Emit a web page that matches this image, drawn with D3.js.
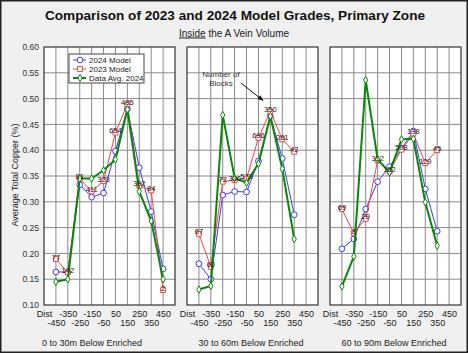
<!DOCTYPE html>
<html>
<head>
<meta charset="utf-8">
<script src="https://cdn.jsdelivr.net/npm/d3@7"></script>
<style>
  body { margin: 0; background: #f0f0f0; }
  text { font-family: Arial, "Liberation Sans", sans-serif; }
</style>
</head>
<body>
<script>
// distance bins along the x axis (m)
const xVals = [-450, -350, -250, -150, -50, 50, 150, 250, 350, 450];
const xTicks = [-550, -450, -350, -250, -150, -50, 50, 150, 250, 350, 450];
const xTickLabels = ["Dist", "-450", "-350", "-250", "-150", "-50", "50", "150", "250", "350", "450"];
const yTicks = [0.10, 0.15, 0.20, 0.25, 0.30, 0.35, 0.40, 0.45, 0.50, 0.55, 0.60];

const panelTitles = ["0 to 30m Below Enriched", "30 to 60m Below Enriched", "60 to 90m Below Enriched"];
const seriesNames = ["2024 Model", "2023 Model", "Data Avg. 2024"];

// 0 to 30m
const model2024_a = [0.164, 0.164, 0.333, 0.309, 0.317, 0.398, 0.480, 0.366, 0.281, 0.170];
const model2023_a = [0.189, 0.163, 0.345, 0.320, 0.340, 0.434, 0.489, 0.331, 0.322, 0.129];
const dataAvg_a   = [0.145, 0.150, 0.345, 0.345, 0.361, 0.382, 0.479, 0.320, 0.263, 0.150];
const blocks_a    = ["77", "142", "81", "411", "323", "654", "485", "392", "84", "2"];

// 30 to 60m
const model2024_b = [0.180, 0.150, 0.313, 0.320, 0.319, 0.379, 0.466, 0.384, 0.275, null];
const model2023_b = [0.238, 0.174, 0.339, 0.342, 0.345, 0.424, 0.475, 0.421, 0.397, null];
const dataAvg_b   = [0.130, 0.137, 0.468, 0.346, 0.337, 0.374, 0.466, 0.364, 0.228, null];
const blocks_b    = ["67", "60", "72", "336", "573", "696", "350", "281", "42", null];

// 60 to 90m
const model2024_c = [0.209, 0.228, 0.286, 0.339, 0.368, 0.403, 0.437, 0.325, 0.243, null];
const model2023_c = [0.286, 0.239, 0.267, 0.380, 0.359, 0.401, 0.432, 0.375, 0.400, null];
const dataAvg_c   = [0.136, 0.194, 0.536, 0.382, 0.357, 0.421, 0.422, 0.299, 0.215, null];
const blocks_c    = ["69", "8", "20", "312", "152", "508", "138", "129", "45", null];

const panels = [
  { left: 44,  title: panelTitles[0], titleX: 92,  s: [model2024_a, model2023_a, dataAvg_a], blocks: blocks_a },
  { left: 187, title: panelTitles[1], titleX: 251, s: [model2024_b, model2023_b, dataAvg_b], blocks: blocks_b },
  { left: 330, title: panelTitles[2], titleX: 394, s: [model2024_c, model2023_c, dataAvg_c], blocks: blocks_c }
];

const colors = ["#3a3aff", "#f24545", "#0a870a"];
const widths = [1, 1, 2];

let width = 468, height = 353;
let plotTop = 47, plotW = 131, plotH = 258;

let svg = d3.select("body").append("svg").attr("width", width).attr("height", height);

svg.append("rect").attr("x", 0.75).attr("y", 0.75).attr("width", width - 1.5).attr("height", height - 1.5)
  .attr("fill", "#f0f0f0").attr("stroke", "#222").attr("stroke-width", 1.5);

// titles
svg.append("text").attr("x", 235).attr("y", 20).attr("text-anchor", "middle")
  .style("font-size", "13.6px").style("font-weight", "bold").attr("fill", "#111")
  .text("Comparison of 2023 and 2024 Model Grades, Primary Zone");
let sub = svg.append("text").attr("x", 234).attr("y", 36.5).attr("text-anchor", "middle")
  .style("font-size", "10px").attr("fill", "#222");
sub.append("tspan").style("text-decoration", "underline").text("Inside");
sub.append("tspan").text(" the A Vein Volume");

svg.append("text").attr("transform", "translate(17.5,175) rotate(-90)").attr("text-anchor", "middle")
  .style("font-size", "9px").attr("fill", "#222").text("Average Total Copper (%)");

let x = d3.scaleLinear().domain([-550, 550]).range([0, plotW]);
let y = d3.scaleLinear().domain([0.10, 0.60]).range([plotH, 0]);

const symbols = [d3.symbolCircle, d3.symbolSquare, d3.symbolDiamond];
const symSizes = [26, 24, 16];

panels.forEach((p, pi) => {
  let g = svg.append("g").attr("transform", "translate(" + p.left + "," + plotTop + ")");

  g.append("rect").attr("width", plotW).attr("height", plotH).attr("fill", "white");

  // grid
  g.append("g").selectAll("line").data(xTicks.slice(1)).enter().append("line")
    .attr("x1", d => x(d)).attr("x2", d => x(d)).attr("y1", 0).attr("y2", plotH)
    .attr("stroke", "#8a8a8a").attr("stroke-width", 1);
  g.append("g").selectAll("line").data(yTicks.slice(1, -1)).enter().append("line")
    .attr("x1", 0).attr("x2", plotW).attr("y1", d => y(d)).attr("y2", d => y(d))
    .attr("stroke", "#8a8a8a").attr("stroke-width", 1);
  g.append("rect").attr("width", plotW).attr("height", plotH).attr("fill", "none")
    .attr("stroke", "#333").attr("stroke-width", 1.2);

  // x axis, labels staggered on two rows
  let xAxis = g.append("g").attr("transform", "translate(0," + plotH + ")")
    .call(d3.axisBottom(x).tickValues(xTicks).tickSize(0).tickFormat((d, i) => xTickLabels[i]));
  xAxis.select(".domain").remove();
  xAxis.selectAll("text").style("font-size", "9px").attr("fill", "#222")
    .attr("y", (d, i) => i % 2 == 0 ? 6 : 15).attr("dy", "0.71em");

  if (pi == 0) {
    let yAxis = g.append("g")
      .call(d3.axisLeft(y).tickValues(yTicks).tickSize(0).tickFormat(d3.format(".2f")));
    yAxis.select(".domain").remove();
    yAxis.selectAll("text").style("font-size", "8.5px").attr("fill", "#333").attr("x", -5);
  }

  // series
  p.s.forEach((vals, si) => {
    let pts = xVals.map((d, i) => ({ x: d, v: vals[i] })).filter(d => d.v != null);
    let line = d3.line().x(d => x(d.x)).y(d => y(d.v));
    g.append("path").attr("d", line(pts)).attr("fill", "none")
      .attr("stroke", colors[si]).attr("stroke-width", widths[si]);
    g.append("g").selectAll("path").data(pts).enter().append("path")
      .attr("transform", d => "translate(" + x(d.x) + "," + y(d.v) + ")")
      .attr("d", d3.symbol().type(symbols[si]).size(symSizes[si]))
      .attr("fill", "white").attr("stroke", colors[si]).attr("stroke-width", 1);
  });

  // number of blocks labels above the 2023 points
  let lab = xVals.map((d, i) => ({ x: d, v: p.s[1][i], t: p.blocks[i] })).filter(d => d.t != null);
  g.append("g").selectAll("text").data(lab).enter().append("text")
    .attr("x", d => x(d.x)).attr("y", d => y(d.v) + 0.5).attr("text-anchor", "middle")
    .style("font-size", "7.5px").attr("fill", "#222").text(d => d.t);

  svg.append("text").attr("x", p.titleX).attr("y", 346).attr("text-anchor", "middle")
    .style("font-size", "9px").attr("fill", "#222").text(p.title);
});

// legend in first panel
let leg = svg.append("g").attr("transform", "translate(69,54)");
leg.append("rect").attr("width", 75).attr("height", 29).attr("fill", "white")
  .attr("stroke", "#444").attr("stroke-width", 1);
seriesNames.forEach((name, i) => {
  let ly = 6 + i * 9;
  leg.append("line").attr("x1", 4).attr("x2", 17).attr("y1", ly).attr("y2", ly)
    .attr("stroke", colors[i]).attr("stroke-width", widths[i]);
  leg.append("path").attr("transform", "translate(11," + ly + ")")
    .attr("d", d3.symbol().type(symbols[i]).size(symSizes[i]))
    .attr("fill", "white").attr("stroke", colors[i]);
  leg.append("text").attr("x", 20).attr("y", ly).attr("dy", "0.35em")
    .style("font-size", "8px").attr("fill", "#222").text(name);
});

// annotation
let defs = svg.append("defs");
defs.append("marker").attr("id", "arr").attr("viewBox", "0 0 10 10").attr("refX", 9).attr("refY", 5)
  .attr("markerWidth", 6).attr("markerHeight", 6).attr("orient", "auto")
  .append("path").attr("d", "M0,1 L10,5 L0,9 z").attr("fill", "#111");
svg.append("text").attr("x", 221).attr("y", 77).attr("text-anchor", "middle")
  .style("font-size", "8px").attr("fill", "#333").text("Number of");
svg.append("text").attr("x", 221).attr("y", 86).attr("text-anchor", "middle")
  .style("font-size", "8px").attr("fill", "#333").text("Blocks");
svg.append("line").attr("x1", 241).attr("y1", 83).attr("x2", 263).attr("y2", 100.5)
  .attr("stroke", "#111").attr("stroke-width", 1).attr("marker-end", "url(#arr)");
</script>
</body>
</html>
